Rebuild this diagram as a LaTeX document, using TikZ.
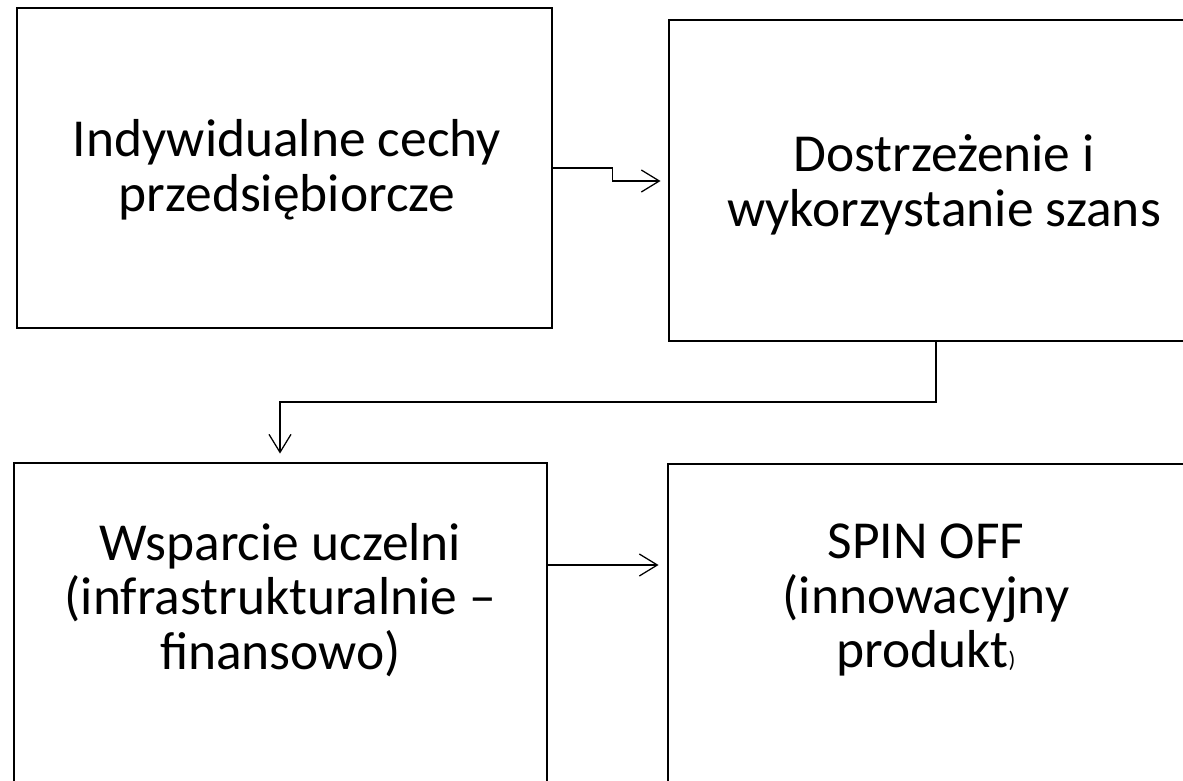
\documentclass[tikz,border=0pt]{standalone}
\usepackage{fontspec}
\setmainfont{Carlito}
\usetikzlibrary{arrows.meta}
\tikzset{
  pole/.style={draw, line width=2pt, rectangle, inner sep=0pt},
  napis/.style={align=center, font=\fontsize{38}{39}\selectfont},
  strzalka/.style={line width=0.9pt, -{Straight Barb[length=0.45cm, width=0.55cm, line width=0.9pt]}}
}
\begin{document}
\begin{tikzpicture}[x=0.025cm, y=-0.025cm]
        \useasboundingbox (0,0) rectangle (1183,781);
        % Prostokaty
        \node[pole, minimum width=13.375cm, minimum height=8cm] (cechy) at (284.5,168) {};
        \node[pole, minimum width=13.65cm, minimum height=8.025cm] (szanse) at (942,180.5) {};
        \node[pole, minimum width=13.325cm, minimum height=8cm] (wsparcie) at (280.5,623) {};
        \node[pole, minimum width=13.05cm, minimum height=8cm] (spinoff) at (929,624) {};
        % Teksty
        \node[napis] (tcechy) at (287,170) {Indywidualne cechy\\przedsiębiorcze};
        \node[napis] (tszanse) at (944,185) {Dostrzeżenie i\\wykorzystanie szans};
        \node[napis] (twsparcie) at (280.5,600) {Wsparcie uczelni\\(infrastrukturalnie –\\finansowo)};
        \node[napis] (tspinoff) at (926,600) {SPIN OFF\\(innowacyjny\\produkt{\fontsize{16}{16}\selectfont)}};
        % Strzalki
        \coordinate (k1) at ([yshift=-0.325cm, xshift=-0.175cm]szanse.west |- cechy.east);
        \draw[strzalka] (cechy.east) -- ++(59,0) |- (k1);
        \draw[strzalka] (szanse.south -| 936,0) -- (936,402) -| ([yshift=0.2cm]wsparcie.north -| 280,0);
        \coordinate (k3) at ([xshift=-0.2cm]spinoff.west |- 0,565);
        \draw[strzalka] (wsparcie.east |- 0,565) -- (k3);
\end{tikzpicture}
\end{document}
